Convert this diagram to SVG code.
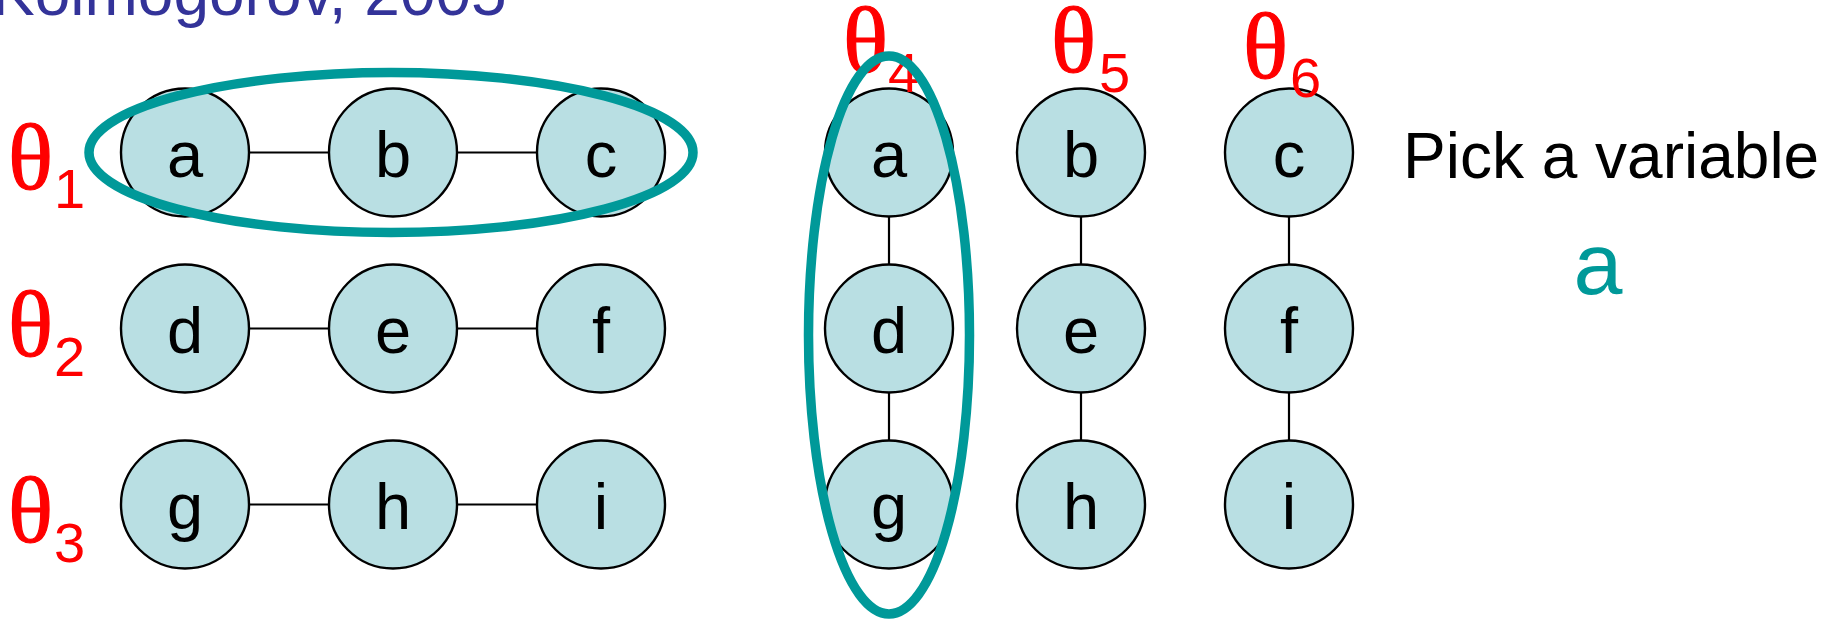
<svg xmlns="http://www.w3.org/2000/svg" width="1822" height="619" viewBox="0 0 1822 619">
  <style>
    .node circle { fill: #B9DFE3; stroke: #000; stroke-width: 2.4; }
    .node text { font-family: "Liberation Sans", Arial, sans-serif; font-size: 65px; fill: #000; text-anchor: middle; }
    .edge { stroke: #000; stroke-width: 2.2; fill: none; }
    .theta { font-family: "Liberation Serif", "Times New Roman", serif; font-size: 94px; fill: #FF0000; stroke: #FF0000; stroke-width: 1.2; }
    .sub { font-family: "Liberation Sans", Arial, sans-serif; font-size: 56px; fill: #FF0000; }
    .group { fill: none; stroke: #009999; stroke-width: 9.5; }
  </style>
  <rect width="1822" height="619" fill="#fff"/>

  <!-- heading, partly above the top edge -->
  <text x="-8" y="15" font-family="Liberation Sans, Arial, sans-serif" font-size="64" fill="#333399">Kolmogorov, 2005</text>

  <!-- edges -->
  <g id="connectors">
    <line class="edge" x1="249" y1="152.5" x2="329" y2="152.5"/>
    <line class="edge" x1="457" y1="152.5" x2="537" y2="152.5"/>
    <line class="edge" x1="249" y1="328.5" x2="329" y2="328.5"/>
    <line class="edge" x1="457" y1="328.5" x2="537" y2="328.5"/>
    <line class="edge" x1="249" y1="504.5" x2="329" y2="504.5"/>
    <line class="edge" x1="457" y1="504.5" x2="537" y2="504.5"/>
    <line class="edge" x1="889" y1="216.5" x2="889" y2="264.5"/>
    <line class="edge" x1="889" y1="392.5" x2="889" y2="440.5"/>
    <line class="edge" x1="1081" y1="216.5" x2="1081" y2="264.5"/>
    <line class="edge" x1="1081" y1="392.5" x2="1081" y2="440.5"/>
    <line class="edge" x1="1289" y1="216.5" x2="1289" y2="264.5"/>
    <line class="edge" x1="1289" y1="392.5" x2="1289" y2="440.5"/>
  </g>

  <!-- left grid: row chains -->
  <g id="L-a" class="node"><circle cx="185" cy="152.5" r="64"/><text x="185" y="176.5">a</text></g>
  <g id="L-b" class="node"><circle cx="393" cy="152.5" r="64"/><text x="393" y="176.5">b</text></g>
  <g id="L-c" class="node"><circle cx="601" cy="152.5" r="64"/><text x="601" y="176.5">c</text></g>
  <g id="L-d" class="node"><circle cx="185" cy="328.5" r="64"/><text x="185" y="352.5">d</text></g>
  <g id="L-e" class="node"><circle cx="393" cy="328.5" r="64"/><text x="393" y="352.5">e</text></g>
  <g id="L-f" class="node"><circle cx="601" cy="328.5" r="64"/><text x="601" y="352.5">f</text></g>
  <g id="L-g" class="node"><circle cx="185" cy="504.5" r="64"/><text x="185" y="528.5">g</text></g>
  <g id="L-h" class="node"><circle cx="393" cy="504.5" r="64"/><text x="393" y="528.5">h</text></g>
  <g id="L-i" class="node"><circle cx="601" cy="504.5" r="64"/><text x="601" y="528.5">i</text></g>

  <!-- right grid: column chains -->
  <g id="R-a" class="node"><circle cx="889" cy="152.5" r="64"/><text x="889" y="176.5">a</text></g>
  <g id="R-b" class="node"><circle cx="1081" cy="152.5" r="64"/><text x="1081" y="176.5">b</text></g>
  <g id="R-c" class="node"><circle cx="1289" cy="152.5" r="64"/><text x="1289" y="176.5">c</text></g>
  <g id="R-d" class="node"><circle cx="889" cy="328.5" r="64"/><text x="889" y="352.5">d</text></g>
  <g id="R-e" class="node"><circle cx="1081" cy="328.5" r="64"/><text x="1081" y="352.5">e</text></g>
  <g id="R-f" class="node"><circle cx="1289" cy="328.5" r="64"/><text x="1289" y="352.5">f</text></g>
  <g id="R-g" class="node"><circle cx="889" cy="504.5" r="64"/><text x="889" y="528.5">g</text></g>
  <g id="R-h" class="node"><circle cx="1081" cy="504.5" r="64"/><text x="1081" y="528.5">h</text></g>
  <g id="R-i" class="node"><circle cx="1289" cy="504.5" r="64"/><text x="1289" y="528.5">i</text></g>

  <!-- theta labels -->
  <g id="labels">
    <text class="theta" x="8" y="189">θ</text><text class="sub" x="54" y="208">1</text>
    <text class="theta" x="8" y="356">θ</text><text class="sub" x="54" y="376">2</text>
    <text class="theta" x="8" y="542">θ</text><text class="sub" x="54" y="562">3</text>
    <text class="theta" x="843" y="72">θ</text><text class="sub" x="888" y="92">4</text>
    <text class="theta" x="1051" y="72">θ</text><text class="sub" x="1099" y="92">5</text>
    <text class="theta" x="1243" y="78">θ</text><text class="sub" x="1290" y="97">6</text>
  </g>

  <!-- highlighted subproblems -->
  <g id="highlights">
    <ellipse class="group" cx="391" cy="152.5" rx="302" ry="80"/>
    <ellipse class="group" cx="889" cy="335" rx="80.5" ry="279"/>
  </g>

  <g id="caption">
    <text x="1403" y="178" font-family="Liberation Sans, Arial, sans-serif" font-size="64" fill="#000">Pick a variable</text>
    <text x="1598" y="294" font-family="Liberation Sans, Arial, sans-serif" font-size="88" fill="#009999" text-anchor="middle">a</text>
  </g>
</svg>
